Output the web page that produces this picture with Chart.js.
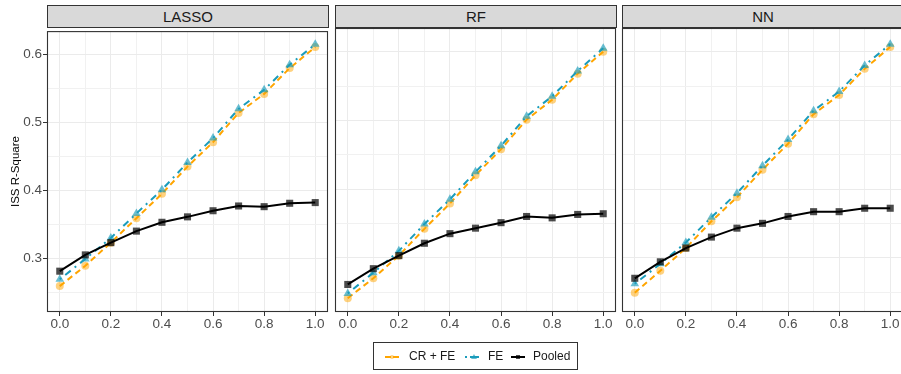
<!DOCTYPE html>
<html>
<head>
<meta charset="utf-8">
<script src="https://cdn.jsdelivr.net/npm/chart.js@4.4.1/dist/chart.umd.min.js"></script>
<style>
  html, body { margin: 0; padding: 0; background: #fff; }
  #wrap { position: relative; width: 901px; height: 374px; overflow: hidden; font-family: "Liberation Sans", Arial, sans-serif; }
  .strip { position: absolute; top: 5px; width: 280px; height: 21px; background: #D9D9D9; border: 1px solid #333;
           text-align: center; font-size: 15px; line-height: 22px; color: #1A1A1A; }
  canvas { position: absolute; top: 22px; }
  .legend { position: absolute; left: 373px; top: 342px; width: 203px; height: 26px; border: 1px solid #333; }
  .key { position: absolute; top: 9px; }
  .lab { position: absolute; top: 6px; font-size: 12px; line-height: 14px; color: #1A1A1A; white-space: nowrap; }
</style>
</head>
<body>
<div id="wrap">
  <div class="strip" style="left:47px">LASSO</div>
  <div class="strip" style="left:335px">RF</div>
  <div class="strip" style="left:622px">NN</div>
  <canvas id="c1" width="333" height="312" style="left:0px"></canvas>
  <canvas id="c2" width="291" height="312" style="left:330px"></canvas>
  <canvas id="c3" width="291" height="312" style="left:617px"></canvas>
  <div class="legend">
    <svg class="key" style="left:11px" width="14" height="10">
      <line x1="0" y1="5" x2="14" y2="5" stroke="#FFA500" stroke-width="2" stroke-dasharray="6 2"/>
      <circle cx="7" cy="5" r="2" fill="rgba(255,165,0,0.5)"/>
    </svg>
    <span class="lab" style="left:35px">CR + FE</span>
    <svg class="key" style="left:91px" width="14" height="10">
      <line x1="0" y1="5" x2="14" y2="5" stroke="#1A9CBB" stroke-width="2" stroke-dasharray="2 3 9 0"/>
      <polygon points="9,2 12,7 6,7" fill="rgba(26,156,187,0.65)"/>
    </svg>
    <span class="lab" style="left:114px">FE</span>
    <svg class="key" style="left:137px" width="14" height="10">
      <line x1="0" y1="5" x2="14" y2="5" stroke="#000" stroke-width="2"/>
      <rect x="5" y="3" width="4" height="4" fill="rgba(0,0,0,0.7)"/>
    </svg>
    <span class="lab" style="left:159px">Pooled</span>
  </div>
</div>
<script>
// доля по оси x
const X_VALUES = [0.0, 0.1, 0.2, 0.3, 0.4, 0.5, 0.6, 0.7, 0.8, 0.9, 1.0];
const X_GRID = [0.0, 0.1, 0.2, 0.3, 0.4, 0.5, 0.6, 0.7, 0.8, 0.9, 1.0];
const Y_GRID = [0.25, 0.3, 0.35, 0.4, 0.45, 0.5, 0.55, 0.6];

const SERIES_NAMES = ['CR + FE', 'FE', 'Pooled'];

// LASSO
const LASSO_CRFE   = [0.259, 0.289, 0.323, 0.359, 0.395, 0.435, 0.471, 0.514, 0.542, 0.580, 0.611];
const LASSO_FE     = [0.269, 0.299, 0.330, 0.366, 0.401, 0.441, 0.477, 0.520, 0.548, 0.585, 0.615];
const LASSO_POOLED = [0.281, 0.305, 0.323, 0.340, 0.353, 0.361, 0.370, 0.377, 0.376, 0.381, 0.382];
// RF
const RF_CRFE   = [0.241, 0.270, 0.303, 0.342, 0.379, 0.420, 0.458, 0.501, 0.530, 0.568, 0.600];
const RF_FE     = [0.248, 0.278, 0.310, 0.349, 0.385, 0.425, 0.463, 0.506, 0.535, 0.572, 0.605];
const RF_POOLED = [0.261, 0.284, 0.303, 0.321, 0.335, 0.343, 0.351, 0.360, 0.358, 0.363, 0.364];
// NN
const NN_CRFE   = [0.249, 0.281, 0.314, 0.353, 0.388, 0.428, 0.466, 0.509, 0.537, 0.575, 0.607];
const NN_FE     = [0.262, 0.291, 0.322, 0.359, 0.394, 0.434, 0.472, 0.514, 0.542, 0.580, 0.611];
const NN_POOLED = [0.270, 0.294, 0.314, 0.330, 0.343, 0.350, 0.360, 0.367, 0.367, 0.372, 0.372];

const COLORS = {
  crfe: '#FFA500',
  crfePt: 'rgba(255,165,0,0.5)',
  fe: '#1A9CBB',
  fePt: 'rgba(26,156,187,0.65)',
  pooled: '#000000',
  pooledPt: 'rgba(0,0,0,0.7)',
};

const isMajorY = v => Math.abs(v * 10 - Math.round(v * 10)) < 1e-6;
const isMajorX = v => Math.abs(v * 5 - Math.round(v * 5)) < 1e-6;

// рамка панели как в theme_bw
const panelBorder = {
  id: 'panelBorder',
  afterDraw(chart) {
    const { ctx, chartArea: a } = chart;
    ctx.save();
    ctx.strokeStyle = '#333333';
    ctx.lineWidth = 1.1;
    ctx.strokeRect(a.left + 0.5, a.top + 0.5, a.right - a.left - 1, a.bottom - a.top - 1);
    ctx.restore();
  }
};

function pts(ys) {
  return X_VALUES.map((x, i) => ({ x: x, y: ys[i] }));
}

function makePanel(id, crfe, fe, pooled, first) {
  const ctx = document.getElementById(id).getContext('2d');
  return new Chart(ctx, {
    type: 'line',
    data: {
      datasets: [
        {
          label: SERIES_NAMES[0], data: pts(crfe),
          borderColor: COLORS.crfe, borderWidth: 2, borderDash: [6, 4],
          pointStyle: 'circle', pointRadius: 4, pointBackgroundColor: COLORS.crfePt,
          pointBorderWidth: 0, pointBorderColor: 'rgba(0,0,0,0)', order: 3
        },
        {
          label: SERIES_NAMES[1], data: pts(fe),
          borderColor: COLORS.fe, borderWidth: 2, borderDash: [2, 5, 7, 5],
          pointStyle: 'triangle', pointRadius: 5, pointBackgroundColor: COLORS.fePt,
          pointBorderWidth: 0, pointBorderColor: 'rgba(0,0,0,0)', order: 2
        },
        {
          label: SERIES_NAMES[2], data: pts(pooled),
          borderColor: COLORS.pooled, borderWidth: 2,
          pointStyle: 'rect', pointRadius: 5, pointBackgroundColor: COLORS.pooledPt,
          pointBorderWidth: 0, pointBorderColor: 'rgba(0,0,0,0)', order: 1
        }
      ]
    },
    options: {
      responsive: false,
      animation: false,
      devicePixelRatio: 1,
      events: [],
      layout: { padding: { top: 6, right: 4, bottom: 0, left: first ? 0 : 5 } },
      plugins: { legend: { display: false }, tooltip: { enabled: false } },
      elements: { line: { tension: 0 } },
      scales: {
        x: {
          type: 'linear', min: -0.05, max: 1.05,
          afterBuildTicks: s => { s.ticks = X_GRID.map(v => ({ value: v })); },
          afterFit: s => { s.height = 22; },
          border: { display: false },
          grid: {
            color: c => isMajorX(c.tick.value) ? '#EBEBEB' : '#F1F1F1',
            lineWidth: 1,
            drawTicks: true, tickLength: 4,
            tickColor: c => isMajorX(c.tick.value) ? '#333333' : 'rgba(0,0,0,0)'
          },
          ticks: {
            autoSkip: false, maxRotation: 0, padding: 0,
            color: '#4D4D4D', font: { family: '"Liberation Sans", Arial', size: 13.5 },
            callback: v => isMajorX(v) ? v.toFixed(1) : ''
          }
        },
        y: {
          type: 'linear', min: 0.2209, max: 0.6345,
          afterBuildTicks: s => { s.ticks = Y_GRID.map(v => ({ value: v })); },
          afterFit: s => { s.width = first ? 47 : 0; },
          border: { display: false },
          title: {
            display: first, text: 'ISS R-Square', color: '#000',
            font: { family: '"Liberation Sans", Arial', size: 11.5 },
            padding: { top: 9, bottom: 0 }
          },
          grid: {
            color: c => isMajorY(c.tick.value) ? '#EBEBEB' : '#F1F1F1',
            lineWidth: 1,
            drawTicks: first, tickLength: 4,
            tickColor: c => isMajorY(c.tick.value) ? '#333333' : 'rgba(0,0,0,0)'
          },
          ticks: {
            display: first, autoSkip: false, padding: 1,
            color: '#4D4D4D', font: { family: '"Liberation Sans", Arial', size: 13.5 },
            callback: v => isMajorY(v) ? v.toFixed(1) : ''
          }
        }
      }
    },
    plugins: [panelBorder]
  });
}

makePanel('c1', LASSO_CRFE, LASSO_FE, LASSO_POOLED, true);
makePanel('c2', RF_CRFE, RF_FE, RF_POOLED, false);
makePanel('c3', NN_CRFE, NN_FE, NN_POOLED, false);
</script>
</body>
</html>
